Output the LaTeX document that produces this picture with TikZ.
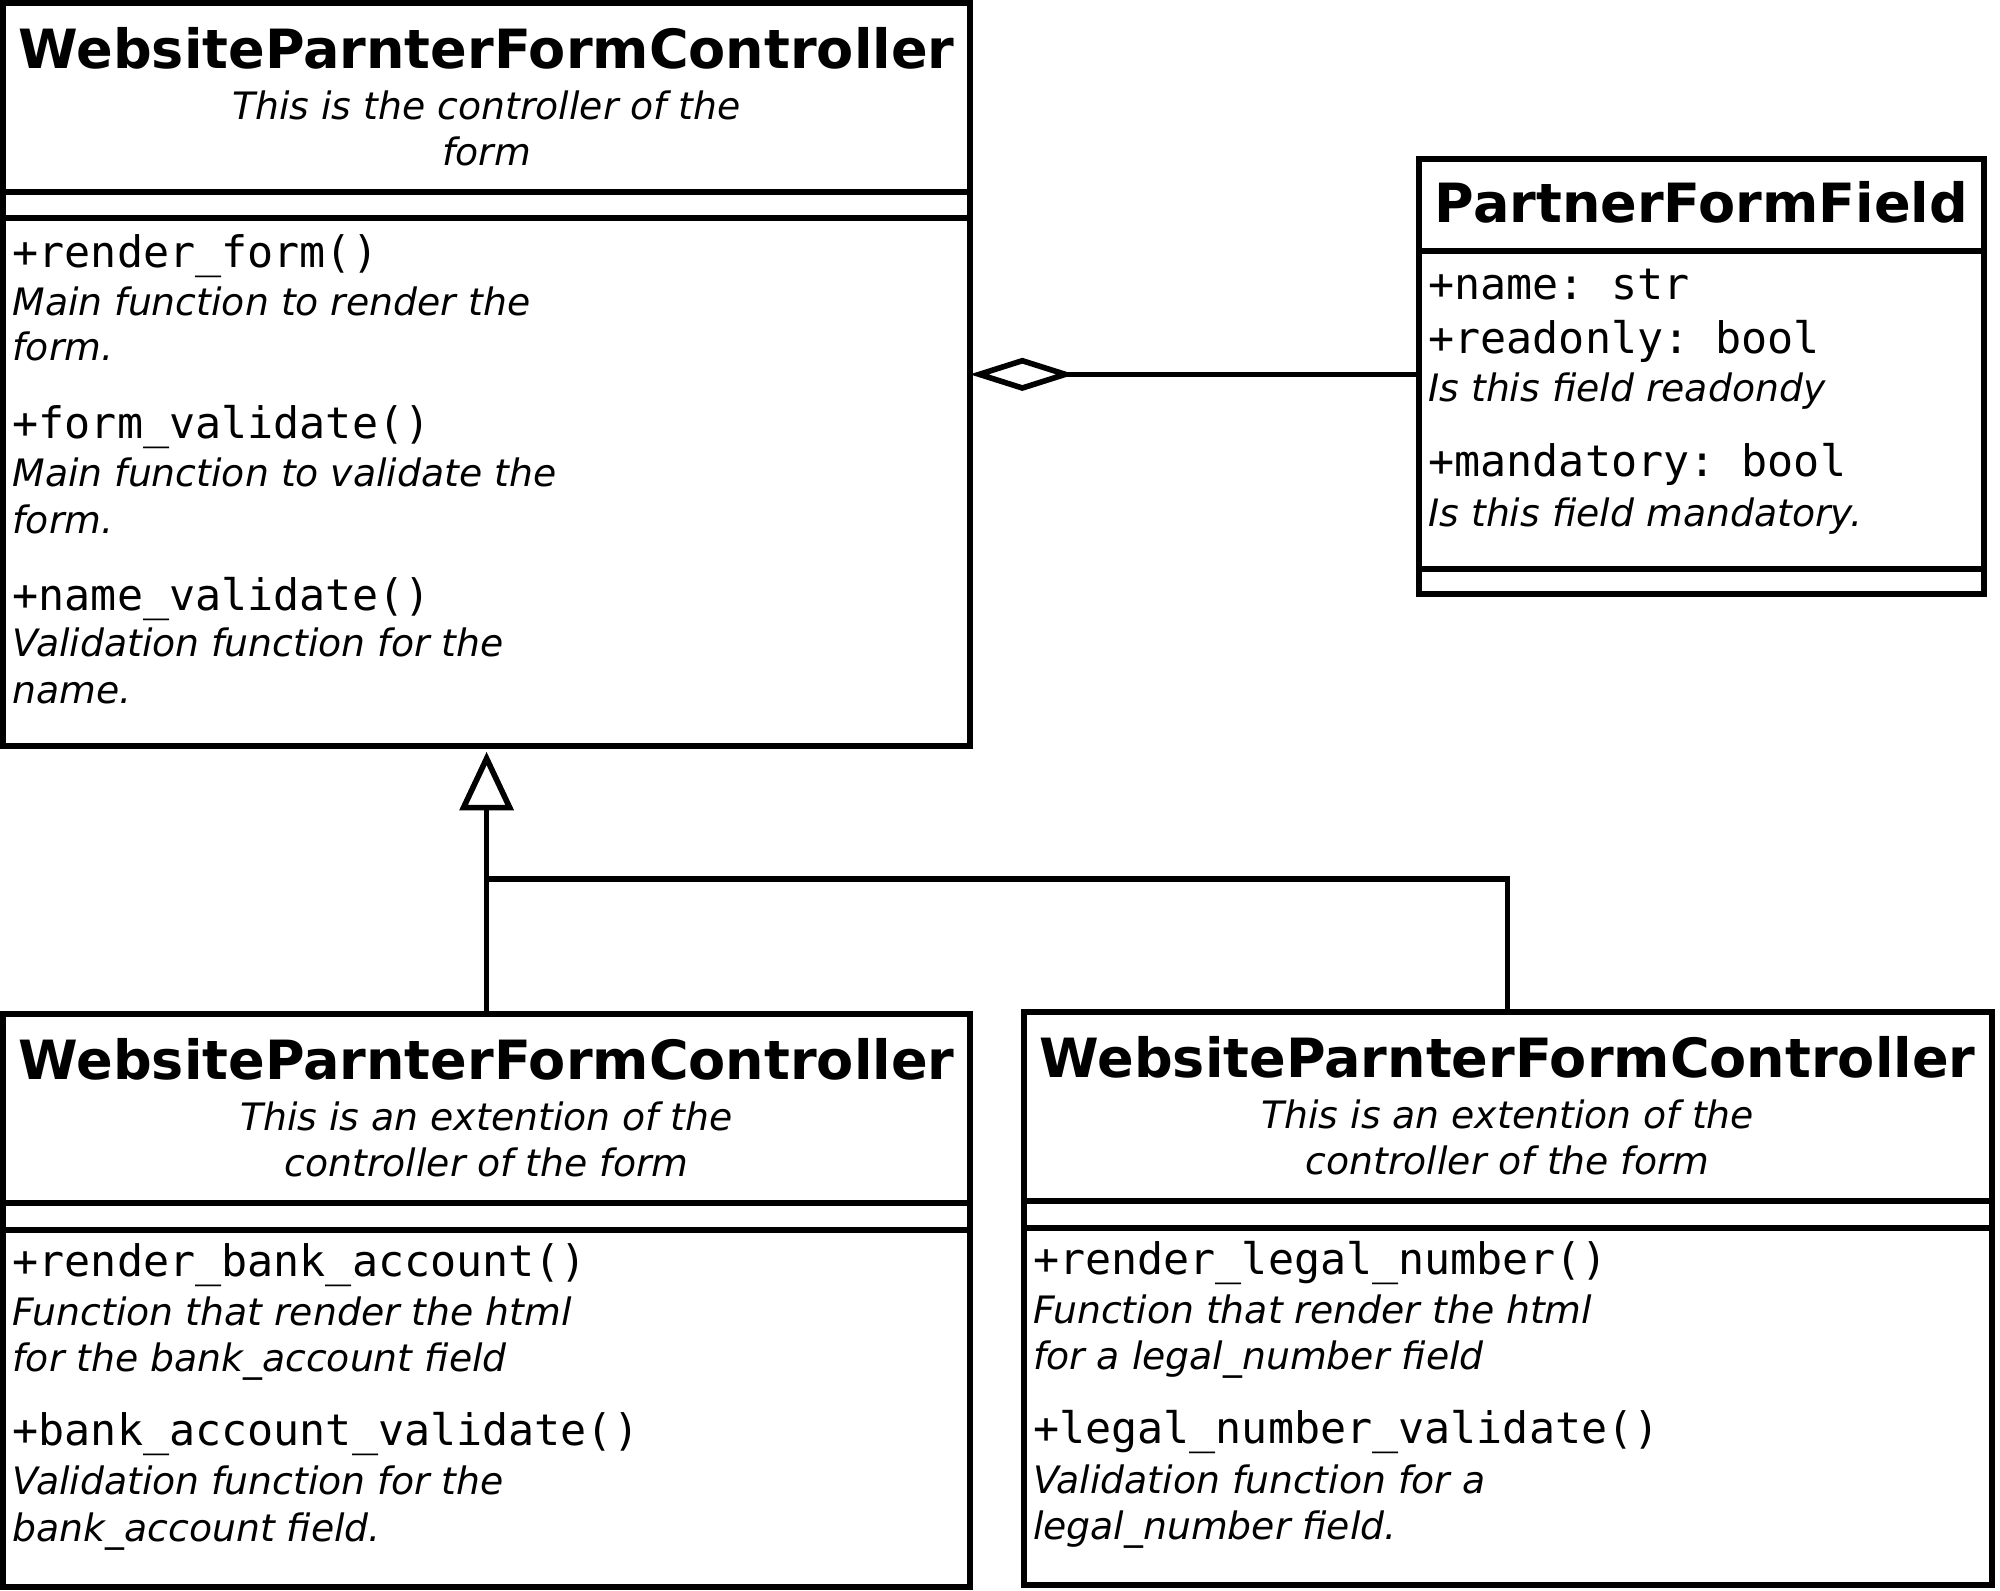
\documentclass[tikz,border=0pt]{standalone}
\usepackage{fontspec}
\setmainfont{DejaVu Sans}
\setmonofont{DejaVu Sans Mono}
\usetikzlibrary{arrows.meta,calc}

\tikzset{
  classbox/.style={draw, line width=2.4pt, inner sep=0pt, outer sep=0pt,
    anchor=north west, minimum width=#1},
  classname/.style={font=\fontsize{21.2}{25}\selectfont\bfseries, anchor=base, inner sep=0pt},
  classnote/.style={font=\fontsize{14.8}{18}\selectfont\itshape, anchor=base, inner sep=0pt},
  member/.style={font=\fontsize{17}{20}\selectfont\ttfamily, anchor=base west, inner sep=0pt},
  memonote/.style={font=\fontsize{14.8}{18}\selectfont\itshape, anchor=base west, inner sep=0pt},
  link/.style={line width=2.2pt},
}

\begin{document}
\begin{tikzpicture}[x=0.5pt, y=-0.5pt]
    \useasboundingbox (0,0) rectangle (1568,1247);

    % =====================
    % Base controller
    % =====================
    \begin{scope}[shift={(2.5,2.5)}]
    \node[classbox=379pt, minimum height=74pt] (ctrlName) at (0,0) {};
    \node[classbox=379pt, minimum height=10.35pt] (ctrlAttr) at (0,148) {};
    \node[classbox=379pt, minimum height=206.9pt] (ctrlOps) at (0,168.7) {};

    \node[classname] (ctrlTitle) at (379,51) {WebsiteParnterFormController};
    \node[classnote] (ctrlNote1) at (379,91) {This is the controller of the};
    \node[classnote] (ctrlNote2) at (379,127.5) {form};

    \node[member] (ctrlOp1) at (7,207) {+render\_form()};
    \node[memonote] (ctrlOp1a) at (7,244.5) {Main function to render the};
    \node[memonote] (ctrlOp1b) at (7,280.5) {form.};
    \node[member] (ctrlOp2) at (7,341.5) {+form\_validate()};
    \node[memonote] (ctrlOp2a) at (7,379) {Main function to validate the};
    \node[memonote] (ctrlOp2b) at (7,415.5) {form.};
    \node[member] (ctrlOp3) at (7,476) {+name\_validate()};
    \node[memonote] (ctrlOp3a) at (7,512.5) {Validation function for the};
    \node[memonote] (ctrlOp3b) at (7,549) {name.};
    \end{scope}

    % =====================
    % Form field
    % =====================
    \begin{scope}[shift={(1112.5,124.7)}]
    \node[classbox=221.5pt, minimum height=35.9pt] (fieldName) at (0,0) {};
    \node[classbox=221.5pt, minimum height=124.7pt] (fieldAttr) at (0,71.8) {};
    \node[classbox=221.5pt, minimum height=10.05pt] (fieldOps) at (0,321.2) {};

    \node[classname] (fieldTitle) at (221.5,49.9) {PartnerFormField};

    \node[member] (fieldAt1) at (7,110) {+name: str};
    \node[member] (fieldAt2) at (7,152.3) {+readonly: bool};
    \node[memonote] (fieldAt2a) at (7,190.2) {Is this field readondy};
    \node[member] (fieldAt3) at (7,249.1) {+mandatory: bool};
    \node[memonote] (fieldAt3a) at (7,287.7) {Is this field mandatory.};
    \end{scope}

    % =====================
    % Bank account extension
    % =====================
    \begin{scope}[shift={(2.5,795)}]
    \node[classbox=379pt, minimum height=74pt] (bankName) at (0,0) {};
    \node[classbox=379pt, minimum height=10.5pt] (bankAttr) at (0,148) {};
    \node[classbox=379pt, minimum height=140pt] (bankOps) at (0,169) {};

    \node[classname] (bankTitle) at (379,51) {WebsiteParnterFormController};
    \node[classnote] (bankNote1) at (379,91) {This is an extention of the};
    \node[classnote] (bankNote2) at (379,127.5) {controller of the form};

    \node[member] (bankOp1) at (7,206) {+render\_bank\_account()};
    \node[memonote] (bankOp1a) at (7,244) {Function that render the html};
    \node[memonote] (bankOp1b) at (7,280.5) {for the bank\_account field};
    \node[member] (bankOp2) at (7,338.5) {+bank\_account\_validate()};
    \node[memonote] (bankOp2a) at (7,377) {Validation function for the};
    \node[memonote] (bankOp2b) at (7,413.5) {bank\_account field.};
    \end{scope}

    % =====================
    % Legal number extension
    % =====================
    \begin{scope}[shift={(802.5,793.5)}]
    \node[classbox=379.5pt, minimum height=74pt] (legalName) at (0,0) {};
    \node[classbox=379.5pt, minimum height=10.5pt] (legalAttr) at (0,148) {};
    \node[classbox=379.5pt, minimum height=140pt] (legalOps) at (0,169) {};

    \node[classname] (legalTitle) at (379.5,51) {WebsiteParnterFormController};
    \node[classnote] (legalNote1) at (379.5,91) {This is an extention of the};
    \node[classnote] (legalNote2) at (379.5,127.5) {controller of the form};

    \node[member] (legalOp1) at (7,206) {+render\_legal\_number()};
    \node[memonote] (legalOp1a) at (7,244) {Function that render the html};
    \node[memonote] (legalOp1b) at (7,280.5) {for a legal\_number field};
    \node[member] (legalOp2) at (7,338.5) {+legal\_number\_validate()};
    \node[memonote] (legalOp2a) at (7,377) {Validation function for a};
    \node[memonote] (legalOp2b) at (7,413.5) {legal\_number field.};
    \end{scope}

    % =====================
    % Connectors
    % =====================
    \coordinate (hasField) at ([shift={(0,97)}]fieldAttr.north west);
    \draw[link, -{Diamond[open, length=41pt, width=13pt]}] (hasField) -- (hasField -| ctrlOps.east);

    \coordinate (split) at ([shift={(0,104)}]ctrlOps.south);
    \draw[link, -{Triangle[open, length=23pt, width=21pt]}, shorten >=2.2pt] (bankName.north) -- (ctrlOps.south);
    \draw[link] (legalName.north) |- (split);

\end{tikzpicture}
\end{document}
